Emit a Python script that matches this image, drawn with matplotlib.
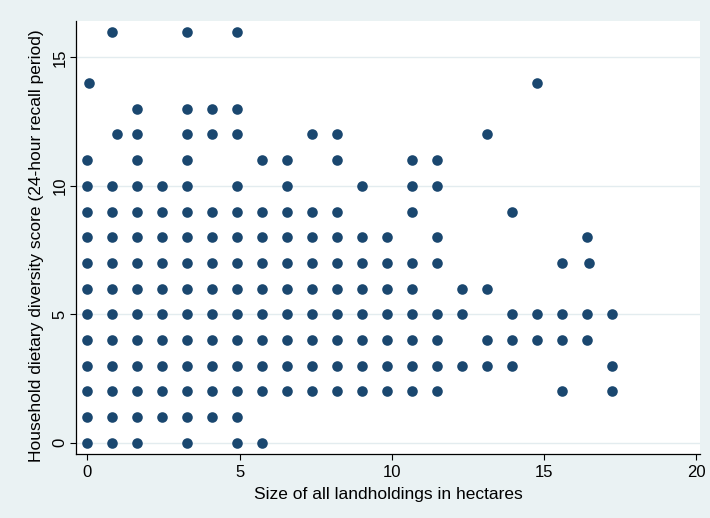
import numpy as np
import matplotlib
matplotlib.use('Agg')
import matplotlib.pyplot as plt

# Tamaño de la finca (ha) de cada hogar, agrupado por puntaje HDDS
hdds_16 = [0.82, 3.28, 4.92]
hdds_14 = [0.07, 14.76]
hdds_13 = [1.64, 3.28, 4.10, 4.92]
hdds_12 = [0.97, 1.64, 3.28, 4.10, 4.92, 7.38, 8.20, 13.12]
hdds_11 = [0.0, 1.64, 3.28, 5.74, 6.56, 8.20, 10.66, 11.48]
hdds_10 = [0.0, 0.82, 1.64, 2.46, 3.28, 4.92, 6.56, 9.02, 10.66, 11.48]
hdds_9 = [0.0, 0.82, 1.64, 2.46, 3.28, 4.10, 4.92, 5.74, 6.56, 7.38, 8.20,
          10.66, 13.94]
hdds_8 = [0.0, 0.82, 1.64, 2.46, 3.28, 4.10, 4.92, 5.74, 6.56, 7.38, 8.20,
          9.02, 9.84, 11.48, 16.40]
hdds_7 = [0.0, 0.82, 1.64, 2.46, 3.28, 4.10, 4.92, 5.74, 6.56, 7.38, 8.20,
          9.02, 9.84, 10.66, 11.48, 15.58, 16.49]
hdds_6 = [0.0, 0.82, 1.64, 2.46, 3.28, 4.10, 4.92, 5.74, 6.56, 7.38, 8.20,
          9.02, 9.84, 10.66, 12.30, 13.12]
hdds_5 = [0.0, 0.82, 1.64, 2.46, 3.28, 4.10, 4.92, 5.74, 6.56, 7.38, 8.20,
          9.02, 9.84, 10.66, 11.48, 12.30, 13.94, 14.76, 15.58, 16.40, 17.22]
hdds_4 = [0.0, 0.82, 1.64, 2.46, 3.28, 4.10, 4.92, 5.74, 6.56, 7.38, 8.20,
          9.02, 9.84, 10.66, 11.48, 13.12, 13.94, 14.76, 15.58, 16.40]
hdds_3 = [0.0, 0.82, 1.64, 2.46, 3.28, 4.10, 4.92, 5.74, 6.56, 7.38, 8.20,
          9.02, 9.84, 10.66, 11.48, 12.30, 13.12, 13.94, 17.22]
hdds_2 = [0.0, 0.82, 1.64, 2.46, 3.28, 4.10, 4.92, 5.74, 6.56, 7.38, 8.20,
          9.02, 9.84, 10.66, 11.48, 15.58, 17.22]
hdds_1 = [0.0, 0.82, 1.64, 2.46, 3.28, 4.10, 4.92]
hdds_0 = [0.0, 0.82, 1.64, 3.28, 4.92, 5.74]

grupos = [(16, hdds_16), (14, hdds_14), (13, hdds_13), (12, hdds_12),
          (11, hdds_11), (10, hdds_10), (9, hdds_9), (8, hdds_8),
          (7, hdds_7), (6, hdds_6), (5, hdds_5), (4, hdds_4),
          (3, hdds_3), (2, hdds_2), (1, hdds_1), (0, hdds_0)]

x = np.concatenate([np.array(v, dtype=float) for _, v in grupos])
y = np.concatenate([np.full(len(v), s, dtype=float) for s, v in grupos])

xticks = [0, 5, 10, 15, 20]
yticks = [0, 5, 10, 15]

plt.rcParams['font.family'] = ['Liberation Sans', 'DejaVu Sans']

fondo = '#EAF2F3'
fig = plt.figure(figsize=(7.10, 5.18), dpi=100, facecolor=fondo)
ax = fig.add_axes([0.107, 0.1236, 0.879, 0.8364])
ax.set_facecolor('white')

ax.scatter(x, y, s=58, color='#1A476F', linewidths=0, zorder=3)

ax.set_xlim(-0.37, 20.12)
ax.set_ylim(-0.44, 16.43)
ax.set_xticks(xticks)
ax.set_yticks(yticks)
ax.grid(True, axis='y', color='#E3ECEF', linewidth=1.0, zorder=0)

for lado in ['top', 'right']:
    ax.spines[lado].set_visible(False)
for lado in ['left', 'bottom']:
    ax.spines[lado].set_color('black')
    ax.spines[lado].set_linewidth(0.9)

ax.tick_params(axis='x', direction='out', length=4, width=0.8,
               labelsize=12, colors='black', pad=4)
ax.tick_params(axis='y', direction='out', length=4, width=0.8,
               labelsize=12, colors='black', pad=2)
plt.setp(ax.get_yticklabels(), rotation=90, va='center')

ax.set_xlabel('Size of all landholdings in hectares', fontsize=12.5, labelpad=5)
ax.set_ylabel('Household dietary diversity score (24-hour recall period)',
              fontsize=12.5)
ax.yaxis.set_label_coords(-0.051, 0.48)

fig.savefig('out.png', dpi=100, facecolor=fondo)
